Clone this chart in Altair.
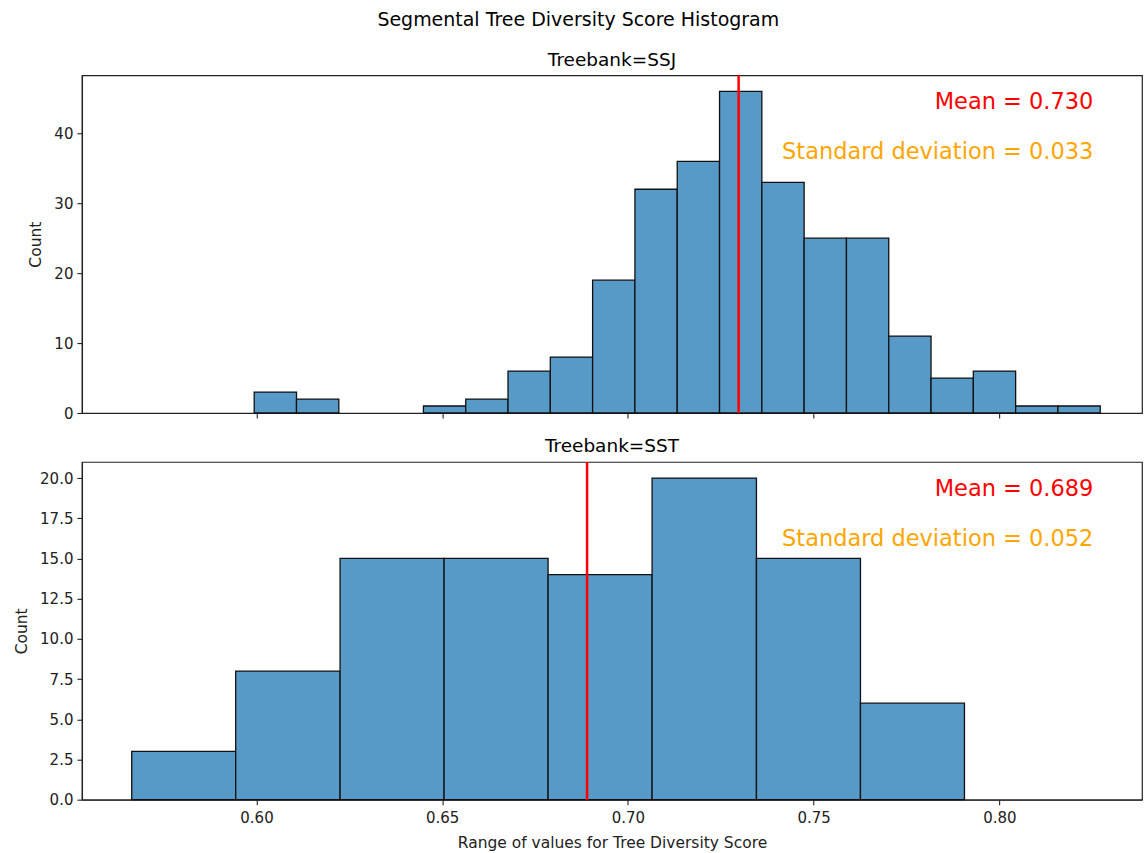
import altair as alt
import pandas as pd

# ---- data ----
ssj_bin_start = [0.59938, 0.61077, 0.62216, 0.63355, 0.64494, 0.65633, 0.66771, 0.67910,
                 0.69049, 0.70188, 0.71327, 0.72466, 0.73605, 0.74744, 0.75883, 0.77022,
                 0.78160, 0.79299, 0.80438, 0.81577]
ssj_bin_end = [0.61077, 0.62216, 0.63355, 0.64494, 0.65633, 0.66771, 0.67910, 0.69049,
               0.70188, 0.71327, 0.72466, 0.73605, 0.74744, 0.75883, 0.77022, 0.78160,
               0.79299, 0.80438, 0.81577, 0.82716]
ssj_counts = [3, 2, 0, 0, 1, 2, 6, 8, 19, 32, 36, 46, 33, 25, 25, 11, 5, 6, 1, 1]

sst_bin_start = [0.5664, 0.5944, 0.6225, 0.6505, 0.6785, 0.7065, 0.7346, 0.7626]
sst_bin_end = [0.5944, 0.6225, 0.6505, 0.6785, 0.7065, 0.7346, 0.7626, 0.7906]
sst_counts = [3, 8, 15, 15, 14, 20, 15, 6]

treebanks = ["SSJ", "SST"]
mean_values = [0.7298, 0.6890]
std_values = [0.033, 0.052]

x_ticks = [0.60, 0.65, 0.70, 0.75, 0.80]
ssj_y_ticks = [0, 10, 20, 30, 40]
sst_y_ticks = [0, 2.5, 5, 7.5, 10, 12.5, 15, 17.5, 20]

# ---- styling / layout ----
FONT = "DejaVu Sans"
X_DOMAIN = [0.553, 0.8384]
BAR_FILL = "#5799c7"
TEXT_X = 0.8253          # right edge of annotation text, in data units
PANEL_W = 1061
PANEL_H = 338


def panel(name, starts, ends, counts, mean, sd, ymax, yticks, yfmt,
          mean_y, sd_y, bottom):
    bars_df = pd.DataFrame({"x": starts, "x_end": ends, "count": counts})
    x_axis = alt.Axis(
        values=x_ticks, format=".2f", labels=bottom, grid=False,
        title="Range of values for Tree Diversity Score" if bottom else None,
        tickSize=5, labelPadding=6, titlePadding=10,
    )
    y_axis = alt.Axis(values=yticks, format=yfmt, grid=False, title="Count",
                      tickSize=5, labelPadding=4, titlePadding=10)
    x_scale = alt.Scale(domain=X_DOMAIN, nice=False, zero=False)
    y_scale = alt.Scale(domain=[0, ymax], nice=False)

    bars = (
        alt.Chart(bars_df)
        .transform_filter(alt.datum["count"] > 0)
        .mark_bar(fill=BAR_FILL, stroke="#111", strokeWidth=1.3, opacity=1)
        .encode(
            x=alt.X("x:Q", scale=x_scale, axis=x_axis),
            x2="x_end:Q",
            y=alt.Y("count:Q", scale=y_scale, axis=y_axis),
            y2=alt.datum(0),
        )
    )
    rule = (
        alt.Chart(pd.DataFrame({"x": [mean]}))
        .mark_rule(color="red", strokeWidth=2.5)
        .encode(x="x:Q")
    )
    ann_df = pd.DataFrame({
        "x": [TEXT_X, TEXT_X],
        "count": [mean_y, sd_y],
        "label": [f"Mean = {mean:.3f}", f"Standard deviation = {sd:.3f}"],
        "kind": ["mean", "sd"],
    })
    texts = (
        alt.Chart(ann_df)
        .mark_text(align="right", baseline="middle", fontSize=22.5, font=FONT)
        .encode(
            x="x:Q",
            y="count:Q",
            text="label:N",
            color=alt.Color("kind:N",
                            scale=alt.Scale(domain=["mean", "sd"],
                                            range=["#ff0000", "#ffa500"]),
                            legend=None),
        )
    )
    return alt.layer(bars, rule, texts).properties(
        width=PANEL_W, height=PANEL_H,
        title=alt.TitleParams(f"Treebank={name}", fontSize=18.5, font=FONT,
                              fontWeight="normal", anchor="middle",
                              offset=5, color="#000"),
    )


top = panel("SSJ", ssj_bin_start, ssj_bin_end, ssj_counts,
            mean_values[0], std_values[0], 48.3, ssj_y_ticks, "d",
            44.45, 37.3, False)
bottom = panel("SST", sst_bin_start, sst_bin_end, sst_counts,
               mean_values[1], std_values[1], 21.0, sst_y_ticks, ".1f",
               19.3, 16.2, True)

chart = (
    alt.vconcat(top, bottom, spacing=14)
    .properties(
        title=alt.TitleParams("Segmental Tree Diversity Score Histogram",
                              fontSize=19, font=FONT, fontWeight="normal",
                              anchor="middle", offset=20, color="#000"),
        padding={"left": 14, "top": 10, "right": 2, "bottom": 2},
        background="white",
    )
    .configure_view(stroke="#222", strokeWidth=1.2)
    .configure_axis(
        labelFont=FONT, titleFont=FONT, labelFontSize=15, titleFontSize=15.5,
        labelColor="#222", titleColor="#222", titleFontWeight="normal",
        domainColor="#222", tickColor="#222", domainWidth=1.2, tickWidth=1.1,
    )
)

chart.save("out.html", embed_options={"renderer": "svg", "actions": False})
